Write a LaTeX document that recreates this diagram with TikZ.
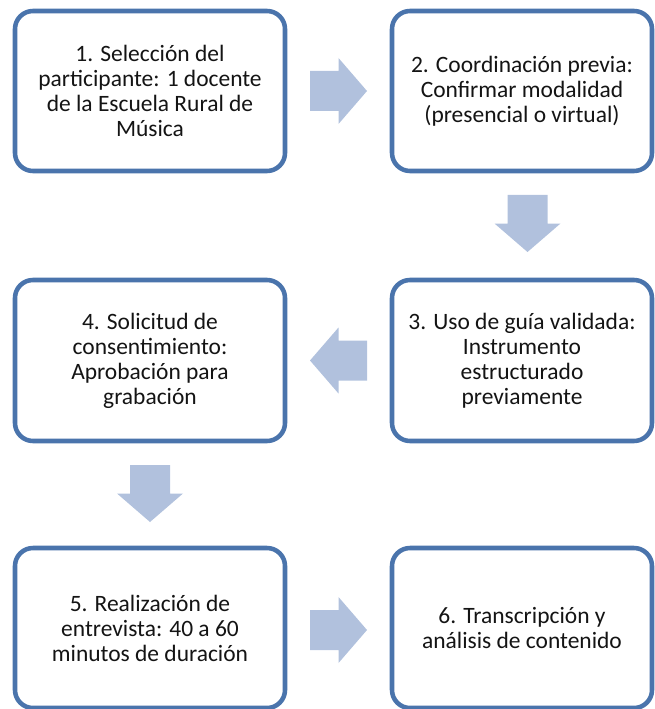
\documentclass[tikz,border=0pt]{standalone}
\usepackage{fontspec}
\setmainfont{Carlito}
\usetikzlibrary{calc}
\definecolor{boxline}{RGB}{74,116,172}
\definecolor{arrowfill}{RGB}{177,193,221}
\definecolor{txt}{RGB}{20,20,20}
\tikzset{
  stepbox/.style={draw=boxline, line width=3.4pt, rounded corners=13.5pt, fill=white,
    align=center, text=txt, inner sep=0pt,
    font=\fontsize{17.6}{18.75}\selectfont},
  blockarrow/.pic={\fill[arrowfill] (-28.5,-20) -- (0,-20) -- (0,-33) -- (28.5,0) -- (0,33) -- (0,20) -- (-28.5,20) -- cycle;}
}
\begin{document}
\begin{tikzpicture}[x=0.75pt,y=-0.75pt]
\useasboundingbox (0,0) rectangle (654,709);
\node[stepbox, minimum width=202.5pt, minimum height=120pt] (b1) at (150,91)
  {1. Selección del\\participante: 1 docente\\de la Escuela Rural de\\Música};
\node[stepbox, minimum width=195pt, minimum height=120pt] (b2) at (522,91)
  {2. Coordinación previa:\\Confirmar modalidad\\(presencial o virtual)};
\node[stepbox, minimum width=195pt, minimum height=120.75pt] (b3) at (522,360.5)
  {3. Uso de guía validada:\\Instrumento\\estructurado\\previamente};
\node[stepbox, minimum width=202.5pt, minimum height=120.75pt] (b4) at (150,360.5)
  {4. Solicitud de\\consentimiento:\\Aprobación para\\grabación};
\node[stepbox, minimum width=202.5pt, minimum height=120pt] (b5) at (150,628)
  {5. Realización de\\entrevista: 40 a 60\\minutos de duración};
\node[stepbox, minimum width=195pt, minimum height=120pt] (b6) at (522,628)
  {6. Transcripción y\\análisis de contenido};
\path ($(b1.east)!0.5!(b2.west)$) pic {blockarrow};
\path ($(b2.south)!0.5!(b3.north)+(5.5,-2)$) pic[rotate=-90] {blockarrow};
\path ($(b3.west)!0.5!(b4.east)$) pic[rotate=180] {blockarrow};
\path ($(b4.south)!0.5!(b5.north)+(0,-1)$) pic[rotate=-90] {blockarrow};
\path ($(b5.east)!0.5!(b6.west)+(0,2)$) pic {blockarrow};
\end{tikzpicture}
\end{document}
